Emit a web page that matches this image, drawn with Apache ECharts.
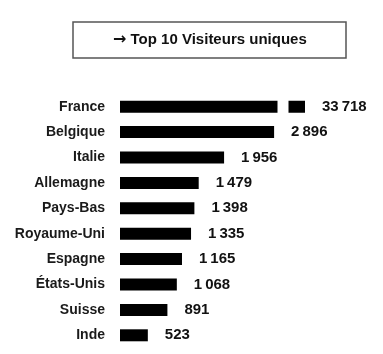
<!DOCTYPE html>
<html>
<head>
    <meta charset="utf-8">
    <title>Top 10 Visiteurs uniques</title>
    <script src="https://cdn.jsdelivr.net/npm/echarts@6.0.0/dist/echarts.min.js"></script>
    <style>
        html, body { margin: 0; padding: 0; background: #fff; }
        #main { width: 383px; height: 354px; }
    </style>
</head>
<body>
<div id="main"></div>
<script>
    // données
    var pays = ['France', 'Belgique', 'Italie', 'Allemagne', 'Pays-Bas',
        'Royaume-Uni', 'Espagne', 'États-Unis', 'Suisse', 'Inde'];
    var visiteurs = [33718, 2896, 1956, 1479, 1398, 1335, 1165, 1068, 891, 523];
    var titre = '{fleche|→} Top 10 Visiteurs uniques';

    // axe coupé pour la barre France
    var coupeDebut = 2950;
    var coupeFin = 33400;

    function formatNombre(v) {
        var s = String(v);
        if (s.length > 3) {
            s = s.slice(0, s.length - 3) + '\u2009' + s.slice(s.length - 3);
        }
        return s;
    }

    var chart = echarts.init(document.getElementById('main'));
    chart.setOption({
        animation: false,
        title: {
            text: titre,
            left: 73,
            top: 22,
            padding: [10, 40, 10, 40],
            borderColor: '#555',
            borderWidth: 1.5,
            textStyle: {
                fontFamily: 'Liberation Sans, Arial, sans-serif',
                fontSize: 15,
                fontWeight: 'bold',
                color: '#111',
                rich: {
                    fleche: {
                        fontFamily: 'DejaVu Sans',
                        fontSize: 16,
                        fontWeight: 'bold',
                        color: '#111'
                    }
                }
            }
        },
        grid: {
            left: 120,
            right: 78,
            top: 94,
            bottom: 6
        },
        xAxis: {
            type: 'value',
            min: 0,
            max: 33718,
            axisLine: { show: false },
            axisTick: { show: false },
            axisLabel: { show: false },
            splitLine: { show: false },
            breaks: [
                { start: coupeDebut, end: coupeFin, gap: '6%' }
            ],
            breakArea: {
                show: true,
                expandOnClick: false,
                zigzagAmplitude: 0,
                zigzagZ: 200,
                itemStyle: {
                    color: '#fff',
                    borderColor: '#fff',
                    borderWidth: 0,
                    opacity: 1
                }
            }
        },
        yAxis: {
            type: 'category',
            inverse: true,
            data: pays,
            axisLine: { show: false },
            axisTick: { show: false },
            axisLabel: {
                margin: 15,
                fontFamily: 'Liberation Sans, Arial, sans-serif',
                fontSize: 14,
                fontWeight: 'bold',
                color: '#1a1a1a'
            }
        },
        series: [
            {
                name: 'Visiteurs uniques',
                type: 'bar',
                data: visiteurs,
                barWidth: 12,
                itemStyle: { color: '#000' }
            },
            {
                // même données, seulement pour les étiquettes au-dessus de la coupure
                name: 'étiquettes',
                type: 'bar',
                data: visiteurs,
                barWidth: 12,
                barGap: '-100%',
                z: 300,
                silent: true,
                itemStyle: { color: 'rgba(0,0,0,0)' },
                label: {
                    show: true,
                    position: 'right',
                    distance: 17,
                    fontFamily: 'Liberation Sans, Arial, sans-serif',
                    fontSize: 15,
                    fontWeight: 'bold',
                    color: '#111',
                    formatter: function (p) {
                        return formatNombre(p.value);
                    }
                }
            }
        ]
    });
</script>
</body>
</html>
